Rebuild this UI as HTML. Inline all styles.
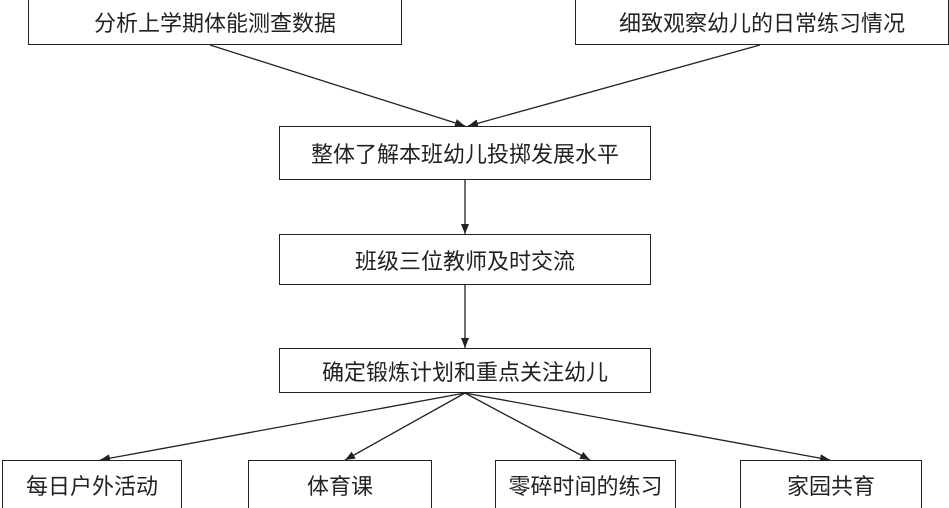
<!DOCTYPE html>
<html><head><meta charset="utf-8"><style>
body{margin:0;background:#fff;}
.b{position:absolute;border:1.5px solid #222;box-sizing:border-box;background:#fff;display:flex;align-items:center;justify-content:center;font-family:"Liberation Sans","Noto Sans CJK SC",sans-serif;font-size:22px;color:#222;}
</style></head><body>
<div style="position:relative;width:949px;height:508px;overflow:hidden">
<svg width="949" height="508" style="position:absolute;left:0;top:0">
<defs><marker id="a" markerWidth="10" markerHeight="8" refX="10" refY="4" orient="auto" markerUnits="userSpaceOnUse"><path d="M0,0L10,4L0,8z" fill="#222"/></marker></defs>
<g stroke="#222" stroke-width="1.3" fill="none" marker-end="url(#a)">
<line x1="210" y1="45" x2="465" y2="126"/>
<line x1="760" y1="45" x2="468" y2="126"/>
<line x1="465" y1="180" x2="465" y2="234"/>
<line x1="465" y1="285" x2="465" y2="348"/>
<line x1="465" y1="393" x2="100" y2="460"/>
<line x1="465" y1="393" x2="345" y2="460"/>
<line x1="465" y1="393" x2="590" y2="460"/>
<line x1="465" y1="393" x2="830" y2="460"/>
</g></svg>
<div class="b" style="left:28px;top:-2px;width:374px;height:47px">分析上学期体能测查数据</div>
<div class="b" style="left:575px;top:-2px;width:374px;height:47px">细致观察幼儿的日常练习情况</div>
<div class="b" style="left:279px;top:126px;width:372px;height:54px">整体了解本班幼儿投掷发展水平</div>
<div class="b" style="left:279px;top:234px;width:372px;height:51px">班级三位教师及时交流</div>
<div class="b" style="left:279px;top:348px;width:372px;height:45px">确定锻炼计划和重点关注幼儿</div>
<div class="b" style="left:2px;top:460px;width:180px;height:50px">每日户外活动</div>
<div class="b" style="left:248px;top:460px;width:184px;height:50px">体育课</div>
<div class="b" style="left:495px;top:460px;width:181px;height:50px">零碎时间的练习</div>
<div class="b" style="left:740px;top:460px;width:182px;height:50px">家园共育</div>
</div>
</body></html>
